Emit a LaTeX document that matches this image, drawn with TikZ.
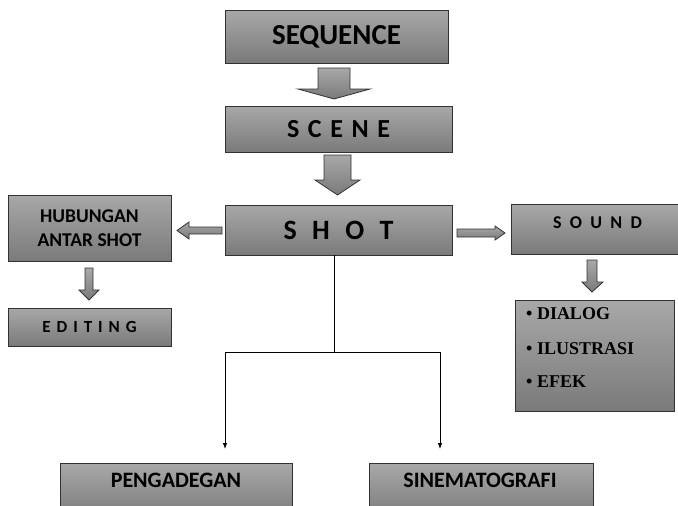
\documentclass[tikz,border=0pt]{standalone}
\usepackage{fontspec}
\setmainfont{Carlito}
\newfontfamily\listfont{Liberation Serif}
\usetikzlibrary{arrows.meta,calc}
\definecolor{boxtop}{RGB}{168,168,168}
\definecolor{boxbot}{RGB}{122,122,122}
\definecolor{boxline}{RGB}{50,50,50}
\newcommand\gp[1]{\kern#1}
\begin{document}
\begin{tikzpicture}[x=1pt,y=-1pt,
  box/.style={draw=boxline,line width=0.9pt,top color=boxtop,bottom color=boxbot,
    inner sep=0pt,font=\bfseries,text=black,align=center},
  blk/.style={draw=boxline,line width=0.8pt,top color=boxtop,bottom color=boxbot,line join=miter},
  thin/.style={draw=black,line width=0.8pt},
  tip/.style={-{Latex[length=6pt,width=4.5pt]}}]
\useasboundingbox (0,0) rectangle (678,506);
% boxes
\node[box,minimum width=223pt,minimum height=53pt,font=\bfseries\fontsize{29}{32}\selectfont] (seq) at (336.5,36.5) {SEQUENCE};
\node[box,minimum width=227pt,minimum height=46pt,font=\bfseries\fontsize{26}{30}\selectfont] (scene) at (338.5,129) {S\gp{.33em}C\gp{.33em}E\gp{.33em}N\gp{.33em}E};
\node[box,minimum width=227pt,minimum height=50pt,font=\bfseries\fontsize{28}{30}\selectfont] (shot) at (338.5,230) {S\gp{.55em}H\gp{.55em}O\gp{.55em}T};
\node[box,minimum width=163pt,minimum height=66pt,font=\bfseries\fontsize{19.5}{24}\selectfont] (hub) at (89.5,228) {HUBUNGAN\\ANTAR SHOT};
\node[box,minimum width=163pt,minimum height=38pt,font=\bfseries\fontsize{17}{20}\selectfont] (edit) at (89.5,327) {E\gp{.35em}D\gp{.35em}I\gp{.35em}T\gp{.35em}I\gp{.35em}N\gp{.35em}G};
\node[box,minimum width=167pt,minimum height=50pt] (sound) at (594.5,229) {};
\node[font=\bfseries\fontsize{18}{20}\selectfont,inner sep=0pt] (soundtxt) at (597.5,223) {S\gp{.46em}O\gp{.46em}U\gp{.46em}N\gp{.46em}D};
\node[box,minimum width=159pt,minimum height=111pt] (list) at (594.5,355.5) {};
\node[font=\listfont\bfseries\fontsize{18}{20}\selectfont,anchor=west,inner sep=0pt] (l1) at (526,314) {• DIALOG};
\node[font=\listfont\bfseries\fontsize{18}{20}\selectfont,anchor=west,inner sep=0pt] (l2) at (526,349) {• ILUSTRASI};
\node[font=\listfont\bfseries\fontsize{18}{20}\selectfont,anchor=west,inner sep=0pt] (l3) at (526,382) {• EFEK};
\node[box,minimum width=232pt,minimum height=56pt] (peng) at (176,491) {};
\node[font=\bfseries\fontsize{22}{24}\selectfont,inner sep=0pt] (pengtxt) at (176,480) {PENGADEGAN};
\node[box,minimum width=224pt,minimum height=56pt] (sine) at (481,491) {};
\node[font=\bfseries\fontsize{22}{24}\selectfont,inner sep=0pt] (sinetxt) at (480,480) {SINEMATOGRAFI};
% block arrows
\draw[blk] (318,68) -- (350,68) -- (350,89) -- (370,89) -- (334,99) -- (298,89) -- (318,89) -- cycle;
\draw[blk] (324,155) -- (351,155) -- (351,180) -- (360,180) -- (337.5,195) -- (315,180) -- (324,180) -- cycle;
\draw[blk] (222,227) -- (189,227) -- (189,222) -- (177,230.5) -- (189,239) -- (189,234) -- (222,234) -- cycle;
\draw[blk] (85,268) -- (93,268) -- (93,290) -- (99,290) -- (89,300) -- (79,290) -- (85,290) -- cycle;
\draw[blk] (457,229) -- (495,229) -- (495,226) -- (505,233) -- (495,240) -- (495,237) -- (457,237) -- cycle;
\draw[blk] (587,260) -- (597,260) -- (597,282) -- (603,282) -- (592,292) -- (582,282) -- (587,282) -- cycle;
% thin connectors
\coordinate (s0) at (334,255);
\coordinate (j) at (334,352);
\coordinate (pa) at (225,449);
\coordinate (pb) at (440,449);
\draw[thin] (s0) -- (j);
\draw[thin,tip] (j) -| (pa);
\draw[thin,tip] (j) -| (pb);
\end{tikzpicture}
\end{document}
